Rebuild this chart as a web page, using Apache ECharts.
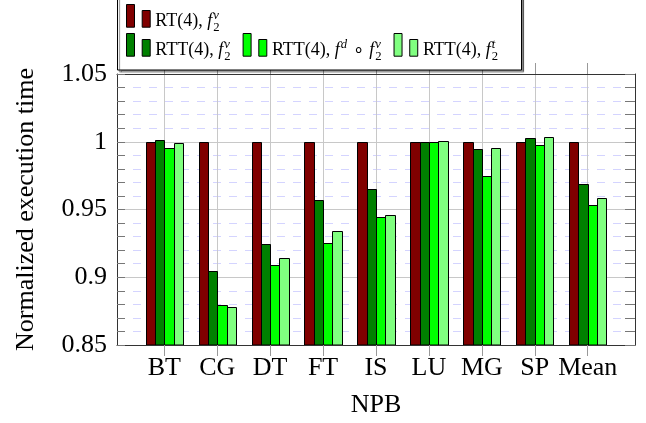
<!DOCTYPE html>
<html>
<head>
<meta charset="utf-8">
<script src="https://cdn.jsdelivr.net/npm/echarts@6/dist/echarts.min.js"></script>
<style>
  html, body { margin: 0; padding: 0; background: #fff; }
  #chart { width: 646px; height: 423px; }
</style>
</head>
<body>
<div id="chart"></div>
<script>
// NPB benchmarks, execution time normalized to RT(4), f2^v
const categories = ['BT', 'CG', 'DT', 'FT', 'IS', 'LU', 'MG', 'SP', 'Mean'];
const rtFv      = [1.0, 1.0, 1.0, 1.0, 1.0, 1.0, 1.0, 1.0, 1.0];
const rttFv     = [1.0012, 0.9044, 0.9244, 0.9571, 0.9654, 1.0, 0.9949, 1.0024, 0.9688];
const rttFdFv   = [0.9956, 0.8797, 0.9090, 0.9251, 0.9446, 1.0, 0.9747, 0.9973, 0.9532];
const rttFt     = [0.9990, 0.8777, 0.9139, 0.9342, 0.9461, 1.0004, 0.9956, 1.0034, 0.9588];
const yTickLabels = ['0.85', '0.9', '0.95', '1', '1.05'];

const SERIF = 'Liberation Serif';
const catIdx = categories.map((c, i) => i);
const Y_MIN = 0.85, Y_MAX = 1.05;
const BAR_W = 9.3;   // px per bar, bars of a group touch each other

const seriesDefs = [
  { name: 'rtFv',    values: rtFv,    color: '#800000' },
  { name: 'rttFv',   values: rttFv,   color: '#008000' },
  { name: 'rttFdFv', values: rttFdFv, color: '#00ff00' },
  { name: 'rttFt',   values: rttFt,   color: '#80ff80' }
];

const legendText = {
  rtFv:    '{n|RT(4), }{i|f}{sp|v}{sb|2}',
  rttFv:   '{n|RTT(4), }{i|f}{sp|v}{sb|2}',
  rttFdFv: '{n|RTT(4), }{i|f}{sd|d}{op|∘}{i|f}{sp|v}{sb|2}',
  rttFt:   '{n|RTT(4), }{i|f}{sp|t}{sb|2}'
};

const LF = 18;
const legendRich = {
  n:  { fontFamily: SERIF, fontSize: LF, color: '#000', lineHeight: 26 },
  op: { fontFamily: SERIF, fontSize: LF, color: '#000', lineHeight: 26, padding: [0, 5, 0, 5] },
  i:  { fontFamily: SERIF, fontSize: LF, fontStyle: 'italic', color: '#000', lineHeight: 26 },
  sd: { fontFamily: SERIF, fontSize: 12.7, fontStyle: 'italic', color: '#000', verticalAlign: 'top', padding: [1, 1, 0, 1] },
  sp: { fontFamily: SERIF, fontSize: 12.7, fontStyle: 'italic', color: '#000', verticalAlign: 'top', width: 0, padding: [1, 0, 0, 1] },
  sb: { fontFamily: SERIF, fontSize: 12.7, color: '#000', verticalAlign: 'bottom', padding: [0, 0, 0, 0] }
};

// two-bar glyph used as the legend image
const barIcon = 'path://M0,0h8v22.7h-8z M15.7,6h8v16.7h-8z';

function makeLegend(names, top) {
  return {
    data: names,
    left: 126,
    top: top,
    orient: 'horizontal',
    icon: barIcon,
    itemWidth: 24,
    itemHeight: 22.7,
    itemGap: 12,
    z: 10,
    padding: 0,
    selectedMode: false,
    itemStyle: { borderColor: '#000', borderWidth: 1 },
    formatter: name => legendText[name],
    textStyle: { fontFamily: SERIF, fontSize: LF, color: '#000', padding: [10, 0, 0, 0], rich: legendRich }
  };
}

// crisp 1px outlines: edges on half pixels
const snap = v => Math.round(v) + 0.5;

// one bar of a grouped column; slot k of 4 within the category band
function barRenderer(k, color) {
  return function (params, api) {
    const xi = api.value(0);
    const top = api.coord([xi, api.value(1)]);
    const base = api.coord([xi, Y_MIN]);
    const x0 = snap(top[0] + (k - 2) * BAR_W);
    const x1 = snap(top[0] + (k - 1) * BAR_W);
    const y0 = snap(top[1]);
    return {
      type: 'rect',
      shape: { x: x0, y: y0, width: x1 - x0, height: base[1] - y0 },
      style: { fill: color, stroke: '#000', lineWidth: 1 }
    };
  };
}

const chart = echarts.init(document.getElementById('chart'), null, { renderer: 'canvas' });

const xMin = -0.893, xMax = 8.893;

const option = {
  animation: false,
  backgroundColor: '#fff',
  grid: { left: 117, right: 11, top: 74, bottom: 76, containLabel: false },
  graphic: [{
    type: 'rect',
    z: 8,
    shape: { x: 117.5, y: -5, width: 404, height: 75 },
    style: {
      fill: '#fff', stroke: '#000', lineWidth: 1,
      shadowColor: 'rgba(0,0,0,0.45)', shadowOffsetX: 2, shadowOffsetY: 2, shadowBlur: 1
    }
  }],
  legend: [
    makeLegend(['rtFv'], 4),
    makeLegend(['rttFv', 'rttFdFv', 'rttFt'], 33)
  ],
  xAxis: [{
    type: 'value',
    position: 'bottom',
    min: xMin, max: xMax,
    axisLine: { show: true, onZero: false, lineStyle: { color: '#333', width: 1 } },
    axisTick: { show: true, inside: false, length: 11, customValues: catIdx, lineStyle: { color: '#999' } },
    axisLabel: {
      customValues: catIdx,
      formatter: v => categories[Math.round(v)],
      fontFamily: SERIF, fontSize: 26, color: '#000', margin: 10
    },
    splitLine: { show: true, lineStyle: { color: '#c8c8c8', width: 1 } },
    name: 'NPB',
    nameLocation: 'middle',
    nameGap: 47,
    nameTextStyle: { fontFamily: SERIF, fontSize: 26, color: '#000' }
  }, {
    type: 'value',
    position: 'top',
    min: xMin, max: xMax,
    axisLine: { show: true, onZero: false, lineStyle: { color: '#333', width: 1 } },
    axisTick: { show: true, inside: false, length: 11, customValues: catIdx, lineStyle: { color: '#999' } },
    axisLabel: { show: false, customValues: catIdx },
    splitLine: { show: false }
  }],
  yAxis: [{
    type: 'value',
    position: 'left',
    min: Y_MIN, max: Y_MAX, interval: 0.05,
    axisLine: { show: true, onZero: false, lineStyle: { color: '#333', width: 1 } },
    axisTick: { show: true, inside: true, length: 8, lineStyle: { color: '#777' } },
    minorTick: { show: true, splitNumber: 5, length: 8, lineStyle: { color: '#777' } },
    axisLabel: {
      formatter: v => yTickLabels[Math.round((v - Y_MIN) / 0.05)],
      fontFamily: SERIF, fontSize: 26, color: '#000', margin: 10
    },
    splitLine: { show: true, lineStyle: { color: '#c8c8c8', width: 1 } },
    minorSplitLine: { show: true, lineStyle: { color: '#d4d4ff', width: 1, type: [8, 8] } },
    name: 'Normalized execution time',
    nameLocation: 'middle',
    nameRotate: 90,
    nameGap: 78,
    nameTextStyle: { fontFamily: SERIF, fontSize: 26, color: '#000' }
  }, {
    type: 'value',
    position: 'right',
    min: Y_MIN, max: Y_MAX, interval: 0.05,
    axisLine: { show: true, onZero: false, lineStyle: { color: '#333', width: 1 } },
    axisTick: { show: true, inside: true, length: 10, lineStyle: { color: '#777' } },
    minorTick: { show: true, splitNumber: 5, length: 10, lineStyle: { color: '#777' } },
    axisLabel: { show: false },
    splitLine: { show: false }
  }],
  series: seriesDefs.map((s, k) => ({
    name: s.name,
    type: 'custom',
    xAxisIndex: 0,
    yAxisIndex: 0,
    clip: true,
    encode: { x: 0, y: 1 },
    itemStyle: { color: s.color, borderColor: '#000', borderWidth: 1 },
    renderItem: barRenderer(k, s.color),
    data: s.values.map((v, i) => [i, v])
  }))
};

chart.setOption(option);
</script>
</body>
</html>
